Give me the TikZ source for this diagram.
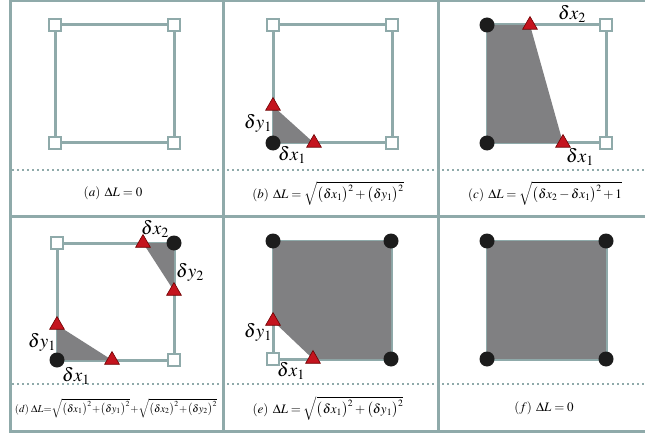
\documentclass[tikz,border=0pt]{standalone}
\usepackage{amsmath}
\usepackage{mathptmx}
\usetikzlibrary{shapes.geometric}
\definecolor{framecolor}{RGB}{143,170,170}
\definecolor{fillgray}{RGB}{128,128,130}
\definecolor{markred}{RGB}{196,20,30}
\definecolor{markedge}{RGB}{110,0,0}
\definecolor{dotblack}{RGB}{28,28,28}

\begin{document}
\begin{tikzpicture}[x=1pt,y=-1pt,
  gridline/.style={framecolor, line width=3pt},
  dotline/.style={framecolor, line width=2pt, dash pattern=on 2pt off 3pt},
  side/.style={framecolor, line width=3pt},
  cutfill/.style={fill=fillgray},
  sqmark/.style={draw=framecolor, fill=white, line width=2.4pt, minimum size=12pt, inner sep=0pt},
  dotmark/.style={circle, fill=dotblack, minimum size=15pt, inner sep=0pt},
  trimark/.style={regular polygon, regular polygon sides=3, draw=markedge, fill=markred,
    line width=0.6pt, minimum size=17pt, inner sep=0pt},
  deltatext/.style={font=\fontsize{19}{21}\selectfont, inner sep=0pt},
  captext/.style={font=\fontsize{13}{15}\selectfont, inner sep=0pt}]
  \useasboundingbox (0,0) rectangle (645,433);

  % frame
  \draw[gridline] (10,1) -- (650,1);
  \draw[gridline] (10,216) -- (650,216);
  \draw[gridline] (10,431) -- (650,431);
  \draw[gridline] (10,0) -- (10,433);
  \draw[gridline] (223,0) -- (223,433);
  \draw[gridline] (438,0) -- (438,433);
  \draw[dotline] (12,170) -- (645,170);
  \draw[dotline] (12,384) -- (645,384);

  % (a)
  \coordinate (a1) at (55,25);  \coordinate (a2) at (174,25);
  \coordinate (a3) at (174,143); \coordinate (a4) at (55,143);
  \draw[side] (a1) -- (a2) -- (a3) -- (a4) -- cycle;
  \foreach \c in {a1,a2,a3,a4} \node[sqmark] (m\c) at (\c) {};
  \node[captext] (capa) at (113,193) {$(a)\;\,\Delta L=0$};

  % (b)
  \coordinate (b1) at (273,25);  \coordinate (b2) at (392,25);
  \coordinate (b3) at (392,143); \coordinate (b4) at (273,143);
  \coordinate (b5) at (273,106); \coordinate (b6) at (314,143);
  \draw[side] (b1) -- (b2) -- (b3) -- (b4) -- cycle;
  \fill[cutfill] (b5) -- (b4) -- (b6) -- cycle;
  \foreach \c in {b1,b2,b3} \node[sqmark] (m\c) at (\c) {};
  \node[dotmark] (mb4) at (b4) {};
  \foreach \c in {b5,b6} \node[trimark] (m\c) at (\c) {};
  \node[deltatext] (bdy) at (258,123) {$\delta y_1$};
  \node[deltatext] (bdx) at (292,155) {$\delta x_1$};
  \node[captext] (capb) at (328,193)
    {$(b)\;\,\Delta L=\sqrt{\bigl(\delta x_1\bigr)^2+\bigl(\delta y_1\bigr)^2}$};

  % (c)
  \coordinate (c1) at (487,25);  \coordinate (c2) at (606,25);
  \coordinate (c3) at (606,143); \coordinate (c4) at (487,143);
  \coordinate (c5) at (530,25);  \coordinate (c6) at (563,143);
  \draw[side] (c1) -- (c2) -- (c3) -- (c4) -- cycle;
  \fill[cutfill] (c1) -- (c5) -- (c6) -- (c4) -- cycle;
  \foreach \c in {c2,c3} \node[sqmark] (m\c) at (\c) {};
  \foreach \c in {c1,c4} \node[dotmark] (m\c) at (\c) {};
  \foreach \c in {c5,c6} \node[trimark] (m\c) at (\c) {};
  \node[deltatext] (cdx2) at (572,14) {$\delta x_2$};
  \node[deltatext] (cdx1) at (580,157) {$\delta x_1$};
  \node[captext] (capc) at (545,193)
    {$(c)\;\,\Delta L=\sqrt{\bigl(\delta x_2-\delta x_1\bigr)^2+1}$};

  % (d)
  \coordinate (d1) at (57,243);  \coordinate (d2) at (174,243);
  \coordinate (d3) at (174,360); \coordinate (d4) at (57,360);
  \coordinate (d5) at (143,243); \coordinate (d6) at (174,291);
  \coordinate (d7) at (57,325);  \coordinate (d8) at (112,360);
  \draw[side] (d1) -- (d2) -- (d3) -- (d4) -- cycle;
  \fill[cutfill] (d5) -- (d2) -- (d6) -- cycle;
  \fill[cutfill] (d7) -- (d4) -- (d8) -- cycle;
  \foreach \c in {d1,d3} \node[sqmark] (m\c) at (\c) {};
  \foreach \c in {d2,d4} \node[dotmark] (m\c) at (\c) {};
  \foreach \c in {d5,d6,d7,d8} \node[trimark] (m\c) at (\c) {};
  \node[deltatext] (ddx2) at (155,229) {$\delta x_2$};
  \node[deltatext] (ddy2) at (190,272) {$\delta y_2$};
  \node[deltatext] (ddy1) at (42,342) {$\delta y_1$};
  \node[deltatext] (ddx1) at (76,376) {$\delta x_1$};
  \node[captext, font=\fontsize{10.5}{12}\selectfont] (capd) at (116,408)
    {$(d)\;\Delta L{=}\sqrt{\bigl(\delta x_1\bigr)^2\!+\!\bigl(\delta y_1\bigr)^2}
      \!+\!\sqrt{\bigl(\delta x_2\bigr)^2\!+\!\bigl(\delta y_2\bigr)^2}$};

  % (e)
  \coordinate (e1) at (273,241); \coordinate (e2) at (391,241);
  \coordinate (e3) at (391,359); \coordinate (e4) at (273,359);
  \coordinate (e5) at (273,321); \coordinate (e6) at (313,359);
  \draw[side] (e1) -- (e2) -- (e3) -- (e4) -- cycle;
  \fill[cutfill] (e1) -- (e2) -- (e3) -- (e6) -- (e5) -- cycle;
  \draw[side] (e5) -- (e4) -- (e6);
  \node[sqmark] (me4) at (e4) {};
  \foreach \c in {e1,e2,e3} \node[dotmark] (m\c) at (\c) {};
  \foreach \c in {e5,e6} \node[trimark] (m\c) at (\c) {};
  \node[deltatext] (edy) at (258,332) {$\delta y_1$};
  \node[deltatext] (edx) at (291,371) {$\delta x_1$};
  \node[captext] (cape) at (328,408)
    {$(e)\;\,\Delta L=\sqrt{\bigl(\delta x_1\bigr)^2+\bigl(\delta y_1\bigr)^2}$};

  % (f)
  \coordinate (f1) at (487,241); \coordinate (f2) at (606,241);
  \coordinate (f3) at (606,359); \coordinate (f4) at (487,359);
  \draw[side] (f1) -- (f2) -- (f3) -- (f4) -- cycle;
  \fill[cutfill] (f1) -- (f2) -- (f3) -- (f4) -- cycle;
  \foreach \c in {f1,f2,f3,f4} \node[dotmark] (m\c) at (\c) {};
  \node[captext] (capf) at (544,408) {$(f)\;\,\Delta L=0$};
\end{tikzpicture}
\end{document}
